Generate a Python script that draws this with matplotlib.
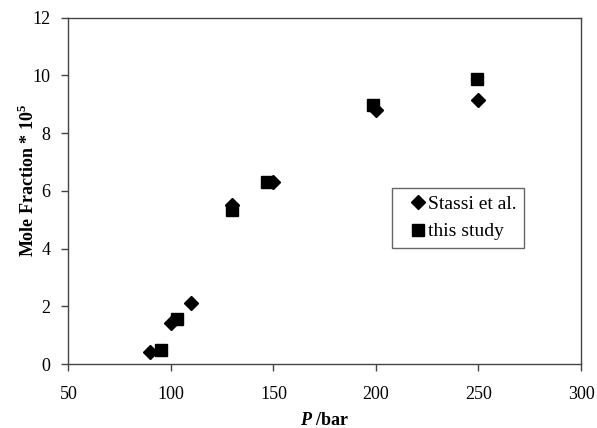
import numpy as np
import matplotlib.pyplot as plt

plt.rcParams['font.family'] = ['Liberation Serif', 'DejaVu Serif']
plt.rcParams['mathtext.fontset'] = 'custom'
plt.rcParams['mathtext.rm'] = 'Liberation Serif'
plt.rcParams['mathtext.bf'] = 'Liberation Serif:bold'
plt.rcParams['mathtext.bfit'] = 'Liberation Serif:italic:bold'

# Stassi et al.
p_stassi = [90, 100, 110, 130, 150, 200, 250]
x_stassi = [0.40, 1.41, 2.13, 5.50, 6.30, 8.78, 9.15]
# this study
p_study = [95, 103, 130, 147, 198.5, 249.5]
x_study = [0.50, 1.55, 5.33, 6.30, 8.97, 9.86]

xticks = [50, 100, 150, 200, 250, 300]
yticks = [0, 2, 4, 6, 8, 10, 12]


def main():
    fig = plt.figure(figsize=(5.97, 4.28), dpi=100)
    ax = fig.add_axes([0.1147, 0.1495, 0.8585, 0.8096])
    ax.plot(p_stassi, x_stassi, 'D', color='black', markersize=7.5, label='Stassi et al.')
    ax.plot(p_study, x_study, 's', color='black', markersize=8, label='this study')
    ax.set_xlim(50, 300)
    ax.set_ylim(0, 12)
    ax.set_xticks(xticks)
    ax.set_yticks(yticks)
    for s in ax.spines.values():
        s.set_color('#444444')
        s.set_linewidth(1.0)
    ax.tick_params(direction='out', length=5, width=1, color='#444444', labelsize=13)
    ax.tick_params(axis='x', pad=11)
    ax.tick_params(axis='y', pad=8)
    ax.set_xlabel(r'$\mathbfit{P}$ /bar', fontsize=13, fontweight='bold', labelpad=6)
    ax.set_ylabel(r'Mole Fraction * 10$^{\mathbf{5}}$', fontsize=13, fontweight='bold')
    ax.yaxis.set_label_coords(-0.06, 0.53)
    leg = ax.legend(loc='upper left', bbox_to_anchor=(0.631, 0.508), borderaxespad=0,
                    fancybox=False, framealpha=1, edgecolor='#666666', fontsize=14,
                    handlelength=1.9, handletextpad=-0.4, borderpad=0.38, labelspacing=0.5)
    leg.get_frame().set_linewidth(1.0)
    fig.savefig('out.png', dpi=100)


if __name__ == '__main__':
    main()
